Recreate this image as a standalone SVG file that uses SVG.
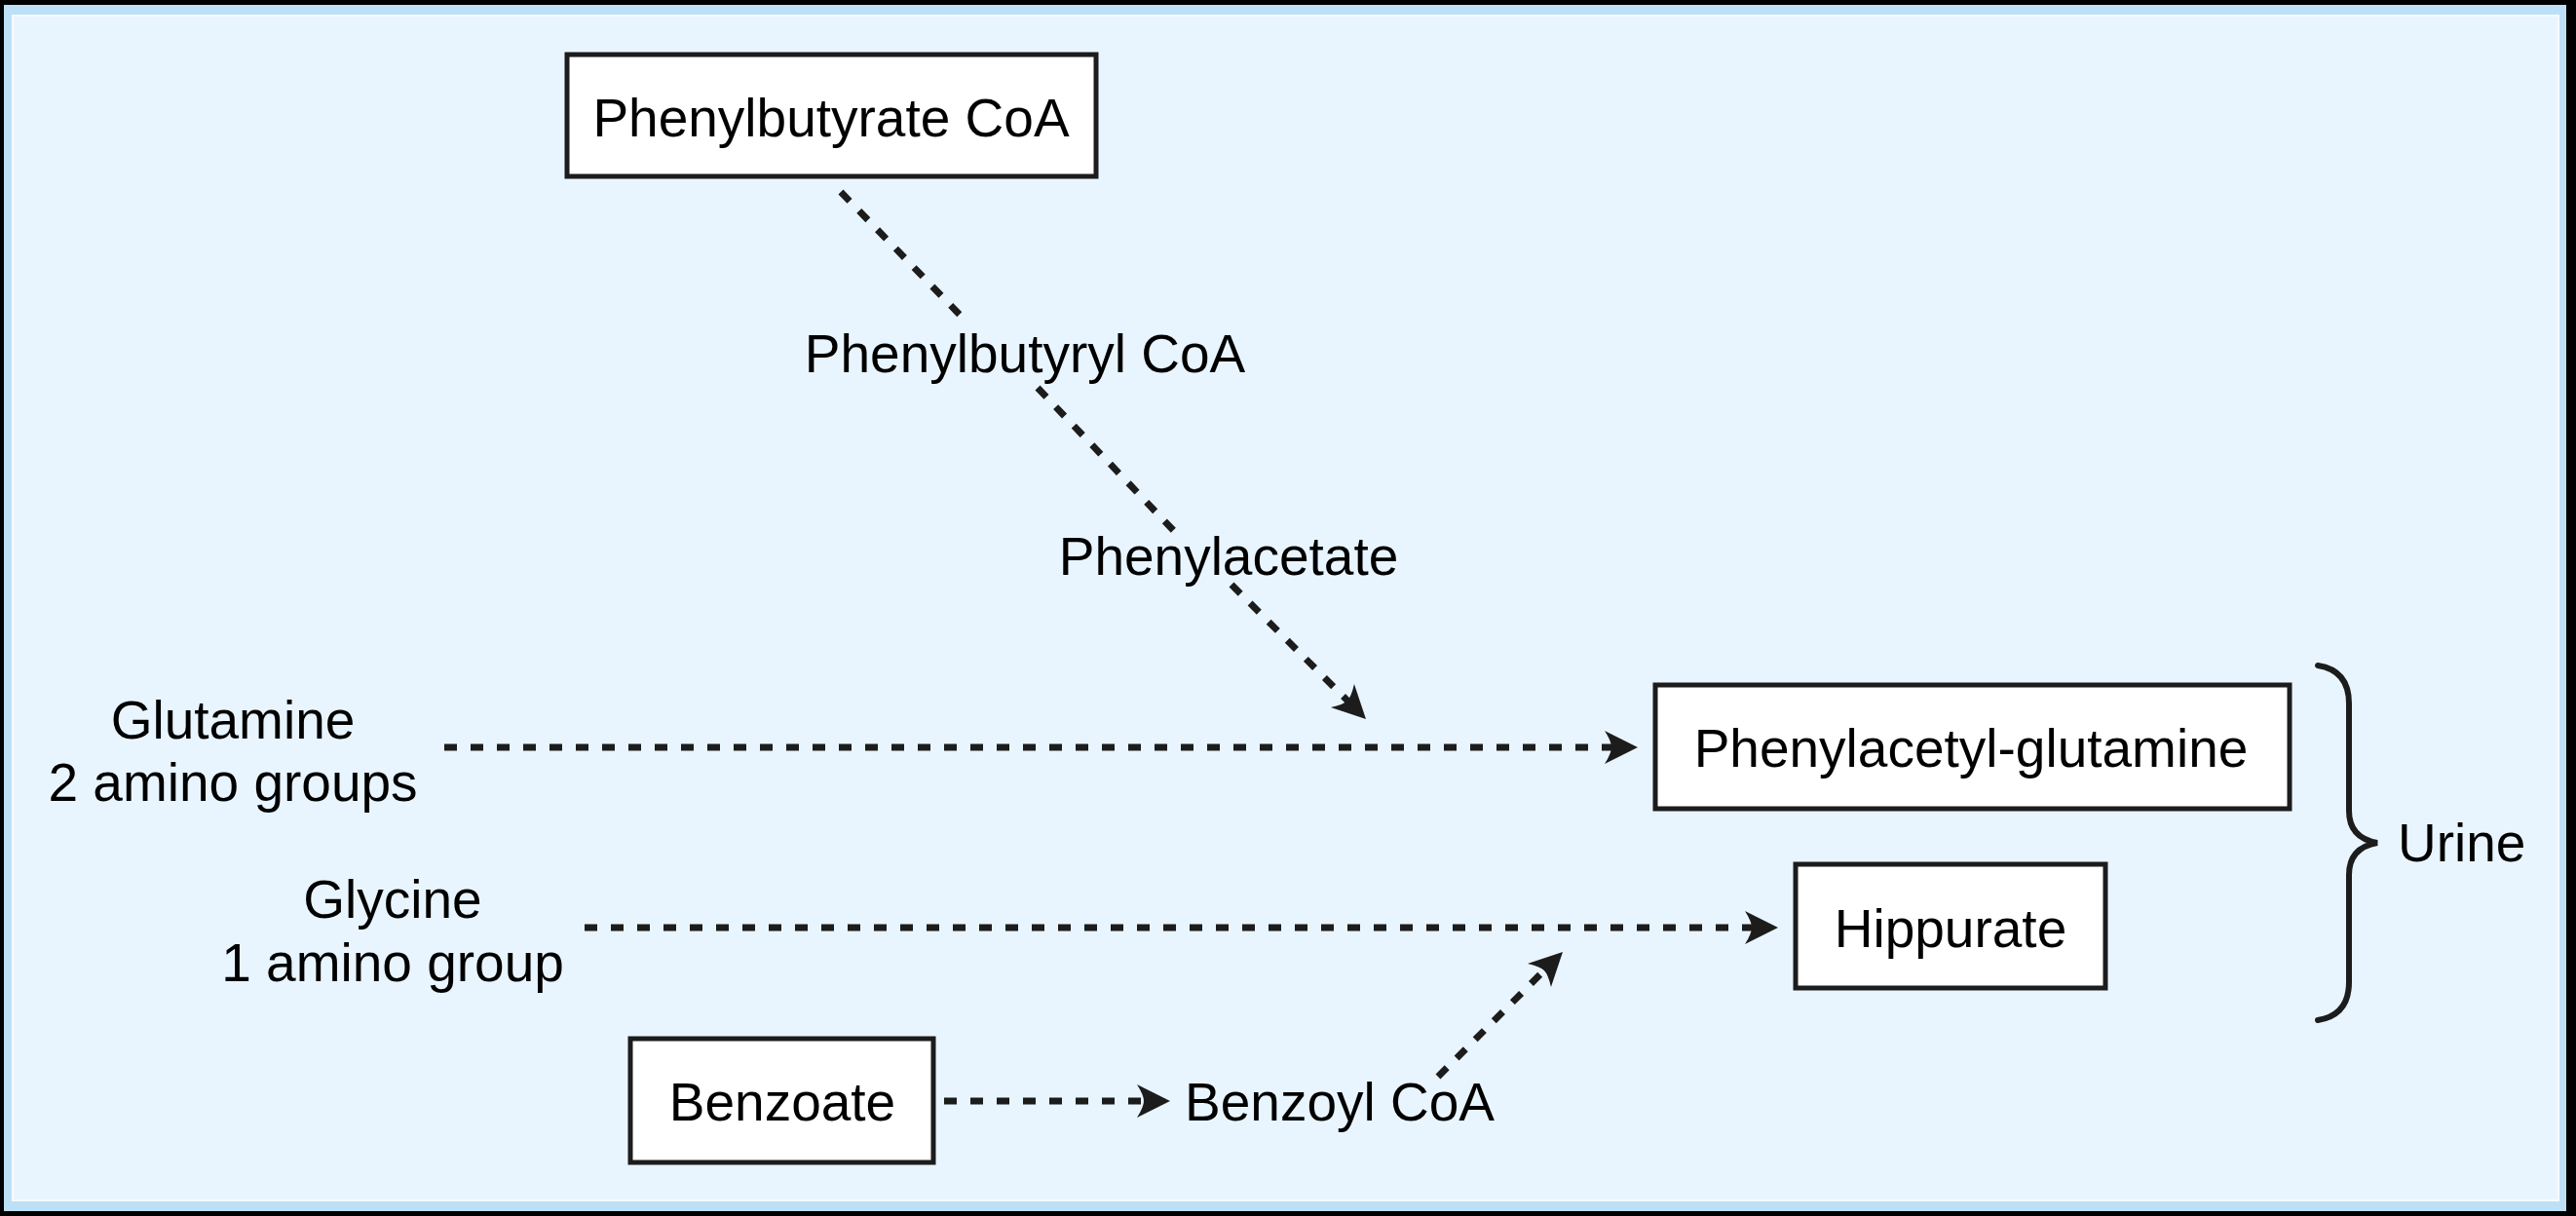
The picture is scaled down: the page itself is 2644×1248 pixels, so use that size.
<svg xmlns="http://www.w3.org/2000/svg" width="2644" height="1248" viewBox="0 0 2644 1248">
<style>
.lbl{font-family:"Liberation Sans",Arial,sans-serif;font-size:55px;fill:#000;}
.mid{text-anchor:middle;}
.box{fill:#fff;stroke:#1c1c1c;stroke-width:5;}
.dash{fill:none;stroke:#1c1c1c;stroke-width:7;stroke-dasharray:13 14;}
.brace{fill:none;stroke:#1c1c1c;stroke-width:6;stroke-linecap:round;}
</style>
<defs>
<marker id="arr" markerUnits="userSpaceOnUse" viewBox="-12 -22 42 44" markerWidth="42" markerHeight="44" refX="0" refY="0" orient="auto" overflow="visible">
<path d="M26 0 L-8 -17 Q-1 -6 -1 0 Q-1 6 -8 17 Z" fill="#1c1c1c"/>
</marker>
</defs>
<g id="frame">
<rect x="0" y="0" width="2644" height="1248" fill="#000"/>
<rect x="4" y="5" width="2630" height="1238" fill="#bde0f7"/>
<rect x="13" y="16" width="2613" height="1216" fill="#e9f5fe" stroke="#f6fbff" stroke-width="2"/>
</g>
<g id="connectors">
<path class="dash" d="M863 197 L987 325"/>
<path class="dash" d="M1065 398 L1205 545"/>
<path class="dash" d="M1264 600 L1383.6 719.6" marker-end="url(#arr)"/>
<path class="dash" d="M456 767 L1655 767" marker-end="url(#arr)"/>
<path class="dash" d="M600 952 L1799 952" marker-end="url(#arr)"/>
<path class="dash" d="M969 1130 L1175 1130" marker-end="url(#arr)"/>
<path class="dash" d="M1476 1105 L1585.6 995.4" marker-end="url(#arr)"/>
</g>
<g id="phenylbutyrate-coa">
<rect class="box" x="582" y="56" width="543" height="125"/>
<text class="lbl mid" x="853" y="140">Phenylbutyrate CoA</text>
</g>
<g id="phenylbutyryl-coa">
<text class="lbl mid" x="1052" y="382">Phenylbutyryl CoA</text>
</g>
<g id="phenylacetate">
<text class="lbl mid" x="1261" y="590">Phenylacetate</text>
</g>
<g id="glutamine">
<text class="lbl mid" x="239" y="758">Glutamine</text>
<text class="lbl mid" x="239" y="822">2 amino groups</text>
</g>
<g id="glycine">
<text class="lbl mid" x="403" y="942">Glycine</text>
<text class="lbl mid" x="403" y="1007">1 amino group</text>
</g>
<g id="phenylacetyl-glutamine">
<rect class="box" x="1699" y="703" width="651" height="127"/>
<text class="lbl mid" x="2023" y="787">Phenylacetyl-glutamine</text>
</g>
<g id="hippurate">
<rect class="box" x="1843" y="887" width="318" height="127"/>
<text class="lbl mid" x="2002" y="972">Hippurate</text>
</g>
<g id="benzoate">
<rect class="box" x="647" y="1066" width="311" height="127"/>
<text class="lbl mid" x="803" y="1150">Benzoate</text>
</g>
<g id="benzoyl-coa">
<text class="lbl mid" x="1375" y="1150">Benzoyl CoA</text>
</g>
<g id="urine">
<path class="brace" d="M2379 683 Q2411 688 2411 722 L2411 832 Q2411 860 2440 865 Q2411 870 2411 898 L2411 1008 Q2411 1042 2379 1047"/>
<text class="lbl" x="2461" y="884">Urine</text>
</g>
</svg>
